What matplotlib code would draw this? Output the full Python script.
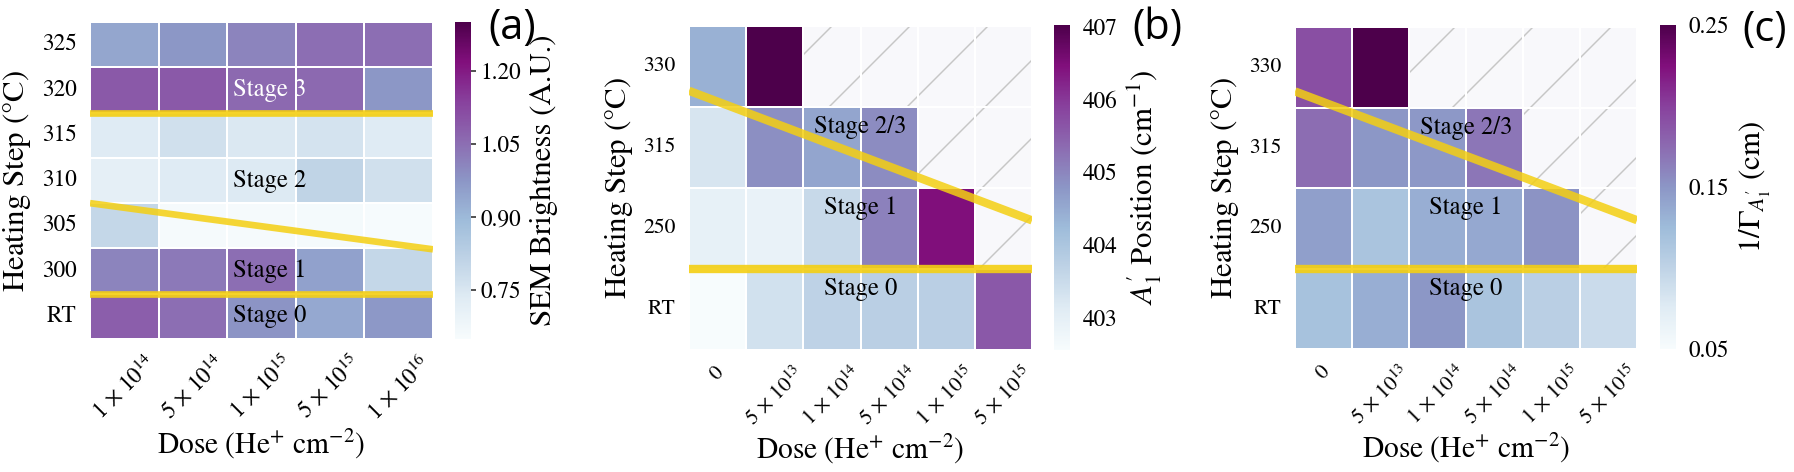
import numpy as np
import pandas as pd
import matplotlib
matplotlib.use('Agg')
import matplotlib.pyplot as plt
import seaborn as sns

DPI = 234
S = 300 / DPI  # sizes below were tuned in points at 300 dpi

plt.rcParams['font.family'] = 'STIXGeneral'
plt.rcParams['mathtext.fontset'] = 'stix'
plt.rcParams['hatch.linewidth'] = 0.35 * S

# panel (a): SEM brightness
steps_a = ['325', '320', '315', '310', '305', '300', 'RT']
doses_a = [r'$1\,\times\,10^{14}$', r'$5\,\times\,10^{14}$', r'$1\,\times\,10^{15}$',
           r'$5\,\times\,10^{15}$', r'$1\,\times\,10^{16}$']
sem = [
    [0.940, 0.975, 1.010, 1.050, 1.050],
    [1.090, 1.090, 1.060, 1.060, 0.975],
    [0.735, 0.770, 0.745, 0.760, 0.735],
    [0.715, 0.735, 0.740, 0.810, 0.770],
    [0.800, 0.660, 0.660, 0.662, 0.655],
    [1.010, 1.030, 1.050, 0.950, 0.800],
    [1.080, 1.050, 0.980, 0.935, 0.970],
]

# panels (b) and (c): Raman A1' mode
steps_bc = ['330', '315', '250', 'RT']
doses_bc = [r'$0$', r'$5\,\times\,10^{13}$', r'$1\,\times\,10^{14}$',
            r'$5\,\times\,10^{14}$', r'$1\,\times\,10^{15}$', r'$5\,\times\,10^{15}$']
nan = np.nan
a1_pos = [
    [404.39, 407.03, nan, nan, nan, nan],
    [403.27, 404.88, 404.57, 404.92, nan, nan],
    [402.95, 402.90, 403.54, 405.06, 406.47, nan],
    [402.55, 403.36, 403.70, 403.76, 403.76, 405.60],
]
inv_width = [
    [0.192, 0.250, nan, nan, nan, nan],
    [0.174, 0.150, 0.149, 0.168, nan, nan],
    [0.144, 0.116, 0.134, 0.138, 0.152, nan],
    [0.118, 0.134, 0.150, 0.116, 0.104, 0.092],
]

W, H = 1794, 472
fig = plt.figure(figsize=(W / DPI, H / DPI), dpi=DPI)


def rect(x0, x1, y0, y1):
    return [x0 / W, 1 - y1 / H, (x1 - x0) / W, (y1 - y0) / H]


YELLOW = '#f4cf12'


def panel(hrect, crect, data, rows, cols, vmin, vmax, ticks, fmt, tick_len,
          cbar_label, stages, bounds, slant, tag, tag_xy, tick_fs):
    ax = fig.add_axes(rect(*hrect))
    cax = fig.add_axes(rect(*crect))
    df = pd.DataFrame(data, index=rows, columns=cols)
    ax.patch.set_facecolor('#f8f8fb')
    ax.patch.set_edgecolor('#c6c6c6')
    ax.patch.set_hatch('/')
    sns.heatmap(df, ax=ax, cbar_ax=cax, cmap='BuPu', vmin=vmin, vmax=vmax,
                linewidths=0.36 * S, linecolor='white',
                xticklabels=True, yticklabels=True)
    ax.set_yticklabels(rows, rotation=0, fontsize=tick_fs * S)
    ax.set_xticklabels(cols, rotation=45, ha='center',
                       fontsize=(tick_fs - 0.1) * S)
    ax.tick_params(axis='both', length=0)
    ax.tick_params(axis='x', pad=3.0 * S)
    ax.tick_params(axis='y', pad=3.2 * S)
    ax.set_xlabel(r'Dose (He$^{+}$ cm$^{-2}$)', fontsize=7.1 * S,
                  labelpad=0.8 * S)
    ax.set_ylabel(r'Heating Step ($\degree$C)', fontsize=7.4 * S,
                  labelpad=2 * S)

    lw = (1.6 if len(rows) > 4 else 2.0) * S
    for b in bounds:
        ax.axhline(b, color=YELLOW, lw=lw, alpha=0.9, zorder=5)
    ax.plot([0, len(cols)], slant, color=YELLOW, lw=lw, alpha=0.85,
            zorder=5, solid_capstyle='butt', clip_on=True)

    for x, y, txt, col in stages:
        ax.text(x, y, txt, ha='center', va='center', fontsize=5.9 * S,
                color=col, zorder=6)

    cb = ax.collections[0].colorbar
    cb.outline.set_visible(False)
    cb.set_ticks(ticks)
    cb.set_ticklabels([fmt % t for t in ticks])
    if tick_len:
        cb.ax.tick_params(length=1.3 * S, width=0.4 * S, color='#333333',
                          pad=1 * S, labelsize=5.6 * S)
    else:
        cb.ax.tick_params(length=0, pad=3 * S, labelsize=5.6 * S)
    cb.set_label(cbar_label, fontsize=7.4 * S, labelpad=2 * S)

    fig.text(tag_xy[0] / W, 1 - tag_xy[1] / H, tag, family='Open Sans',
             fontsize=10 * S, fontweight='medium', ha='center', va='center')
    return ax


panel((90, 433, 22, 339), (455, 471, 22, 339), sem, steps_a, doses_a,
      0.65, 1.30, [0.75, 0.90, 1.05, 1.20], '%.2f', True,
      'SEM Brightness (A.U.)',
      [(2.62, 1.5, 'Stage 3', 'white'), (2.62, 3.5, 'Stage 2', 'black'),
       (2.62, 5.5, 'Stage 1', 'black'), (2.62, 6.5, 'Stage 0', 'black')],
      [2, 6], [4.0, 5.02], '(a)', (512, 28), 5.6)

panel((689, 1032, 26, 350), (1054, 1070, 25, 350), a1_pos, steps_bc, doses_bc,
      402.55, 407.03, [403, 404, 405, 406, 407], '%d', False,
      r"$A_1'$ Position (cm$^{-1}$)",
      [(3.0, 1.25, 'Stage 2/3', 'black'), (3.0, 2.25, 'Stage 1', 'black'),
       (3.0, 3.25, 'Stage 0', 'black')],
      [3], [0.80, 2.40], '(b)', (1157, 28), 5.2)

panel((1295, 1637, 27, 349), (1660, 1676, 25, 349), inv_width, steps_bc, doses_bc,
      0.05, 0.25, [0.05, 0.15, 0.25], '%.2f', False,
      r"$1/\Gamma_{A_1'}$ (cm)",
      [(3.0, 1.25, 'Stage 2/3', 'black'), (3.0, 2.25, 'Stage 1', 'black'),
       (3.0, 3.25, 'Stage 0', 'black')],
      [3], [0.80, 2.40], '(c)', (1765, 30), 5.2)

fig.savefig('out.png', dpi=DPI)
